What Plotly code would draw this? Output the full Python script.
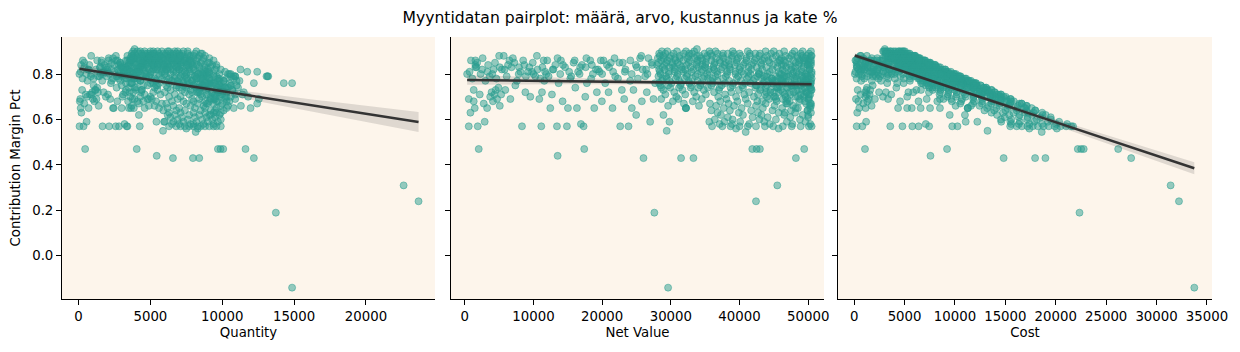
import numpy as np
import plotly.graph_objects as go

# ---------------- data ----------------
# sparse rows: low net value (0 - 28000)
sparse_quantity = [
    60, 120, 70, 200, 90, 250, 150, 300, 180, 420,
    350, 500, 650, 400, 560, 700, 850, 600, 950, 1100,
    800, 1200, 1000, 1300, 1400, 900, 700, 1500, 880, 1150,
    1250, 1600, 1050, 1700, 1670, 1800, 1350, 1900, 2000, 1450,
    2200, 2130, 1750, 2100, 2300, 1550, 2400, 2050, 2500, 2590,
    2250, 2600, 2700, 2820, 2450, 2800, 2900, 2650, 3000, 3100,
    3200, 2950, 3350, 3050, 3300, 3400, 3150, 3500, 3250, 3600,
    3450, 3700, 3550, 3800, 3650, 3900, 3400, 4000, 4150, 3750,
    4260, 4300, 3850, 4400, 4200, 4500, 4600, 4100, 4700, 4350,
    4800, 5420, 4900, 5000,
]
sparse_net_value = [
    340, 580, 580, 820, 1300, 1300, 1450, 1550, 1550, 1550,
    1890, 2180, 2520, 2760, 2900, 3250, 3630, 3700, 3900, 4100,
    4300, 4500, 4700, 4900, 5100, 5300, 4200, 5100, 5670, 5900,
    6640, 7220, 7360, 7850, 8330, 8670, 8820, 9540, 9790, 10270,
    10850, 11140, 11240, 11480, 11580, 11870, 12450, 12690, 13180, 13420,
    13660, 14000, 14240, 14870, 15020, 15360, 15840, 16090, 16330, 16720,
    16910, 17050, 17300, 17540, 17780, 18270, 18650, 18850, 19230, 19620,
    19960, 20450, 20930, 21270, 21510, 21900, 22630, 22870, 23010, 23210,
    23840, 24080, 24320, 24560, 24950, 25050, 25530, 25780, 26260, 26500,
    26740, 26990, 27470, 27710,
]
sparse_cost = [
    68, 180, 249, 303, 416, 351, 508, 217, 248, 264,
    813, 632, 454, 911, 1189, 1138, 762, 1110, 1092, 1312,
    1247, 1215, 1457, 1274, 1734, 1537, 756, 867, 680, 1593,
    2058, 1083, 1840, 1570, 3582, 1387, 2470, 2862, 1860, 2157,
    3364, 4790, 3147, 1607, 2663, 2374, 4358, 3680, 2109, 5771,
    3278, 1960, 4557, 6394, 5257, 3379, 2376, 4183, 5716, 3344,
    7102, 2728, 7439, 5262, 4267, 2558, 3730, 6598, 5384, 3728,
    6387, 4908, 5860, 3191, 7529, 4599, 9731, 6175, 3452, 7195,
    10251, 5538, 8512, 6631, 9481, 4259, 3319, 8250, 5515, 7420,
    3476, 11066, 8516, 6650,
]
sparse_margin = [
    .80, .69, .57, .63, .68, .73, .65, .86, .84, .83,
    .57, .71, .82, .67, .59, .65, .79, .70, .72, .68,
    .71, .73, .69, .74, .66, .71, .82, .83, .88, .73,
    .69, .85, .75, .80, .57, .84, .72, .70, .81, .79,
    .69, .57, .72, .86, .77, .80, .65, .71, .84, .57,
    .76, .86, .68, .57, .65, .78, .85, .74, .65, .80,
    .58, .84, .57, .70, .76, .86, .80, .65, .72, .81,
    .68, .76, .72, .85, .65, .79, .57, .73, .85, .69,
    .57, .77, .65, .73, .62, .83, .87, .68, .79, .72,
    .87, .59, .69, .76,
]

# overlapping sparse rows in the 0.77 - 0.88 band (low net value)
band_quantity = [
    150, 280, 400, 550, 620, 750, 900, 1050, 1200, 1350,
    1500, 1650, 1800, 1950, 2050, 2150, 2300, 2400, 2500, 2650,
    2750, 2850, 2950, 3050, 3150, 3250, 3350, 3450, 3550, 3650,
    3750, 3850, 3950, 4050, 4150, 4250, 4350, 4450, 1300, 3300,
    1600, 1900, 2100, 1700, 2300, 2600, 2000, 2800, 2400, 3000,
    2700, 3200, 2900, 3400, 3100, 3600, 3300, 3800, 3500, 4000,
    3700, 4200, 3900, 4400, 4100, 4600, 4300, 4800, 4500, 5000,
    4700, 5200, 4900, 5400, 5100,
]
band_net_value = [
    700, 1100, 1800, 2300, 3000, 3400, 4000, 4600, 5400, 6100,
    6800, 7600, 8100, 8900, 9400, 10000, 10600, 11000, 11700, 12200,
    12900, 13900, 14600, 15500, 16500, 17600, 18400, 19100, 20000, 20700,
    21600, 22300, 23400, 24300, 25200, 25900, 26600, 27300, 6500, 19800,
    900, 1700, 2600, 3300, 4400, 5000, 5800, 6300, 7000, 7900,
    8500, 9200, 9900, 10500, 11300, 12000, 12800, 13500, 14300, 15200,
    16000, 16800, 17700, 18500, 19400, 20200, 21000, 21800, 22500, 23300,
    24100, 24900, 25700, 26400, 27200,
]
band_cost = [
    133, 242, 270, 460, 690, 544, 800, 1012, 972, 1281,
    1156, 1748, 1539, 1869, 1598, 2000, 1908, 2420, 2223, 2562,
    2322, 2780, 2482, 3255, 3135, 2992, 4048, 3438, 4000, 3312,
    4104, 4906, 4212, 4860, 5544, 4662, 5320, 4368, 910, 2772,
    126, 289, 338, 627, 660, 600, 1044, 1008, 910, 1343,
    1190, 1748, 1485, 1260, 1921, 1680, 2304, 1755, 2288, 2888,
    2240, 2856, 2301, 2960, 3492, 2828, 3570, 2834, 3375, 4427,
    3374, 3984, 3084, 4752, 4080,
]
band_margin = [
    .81, .78, .85, .80, .77, .84, .80, .78, .82, .79,
    .83, .77, .81, .79, .83, .80, .82, .78, .81, .79,
    .82, .80, .83, .79, .81, .83, .78, .82, .80, .84,
    .81, .78, .82, .80, .78, .82, .80, .84, .86, .86,
    .86, .83, .87, .81, .85, .88, .82, .84, .87, .83,
    .86, .81, .85, .88, .83, .86, .82, .87, .84, .81,
    .86, .83, .87, .84, .82, .86, .83, .87, .85, .81,
    .86, .84, .88, .82, .85,
]

# dense rows: net value 28000 - 50500, one margin level per line
dense_quantity = [
    3900,
    4100, 5200, 4600, 6900, 5800, 7600, 6300,
    3700, 4400, 5000, 4800, 5600, 6100, 6600, 7200, 5300, 8100, 8600,
    4000, 4900, 5400, 3800, 6400, 5700, 7000, 6200, 7800, 4700, 8400,
    4300, 3600, 5100, 6700, 4500, 5900, 7400, 6000, 8000, 5500, 8700,
    4200, 5000, 6500, 4800, 7300, 5600, 6800, 8200, 5200, 7700,
    3900, 4700, 5800, 6300, 5400, 7100, 6600, 7900, 4500, 9000,
    3500, 4400, 6000, 5100, 6900, 5700, 8300, 7500, 6400, 9300,
    3300, 5300, 4600, 7200, 6200, 8800, 5900, 9600, 7700,
    3100, 4900, 6600, 5500, 8000, 7000, 9900, 6100, 11270,
    2800, 4200, 5800, 7400, 6800, 9100, 8500, 11740, 12430,
    3400, 5000, 6400, 7800, 4700, 9400, 8700, 10400,
    2700, 4500, 6100, 13080, 7100, 13150, 8900, 13200,
    3200, 5300, 3700, 6700, 9700, 7500, 10800, 8300,
    2900, 4100, 6000, 5100, 7900, 9200, 6500, 10100, 8600,
    3600, 5600, 7300, 12200, 14280, 8100, 14860, 9500,
    3000, 4800, 6800, 5400, 8800, 7600, 10600, 9800,
    4000, 6200, 3500, 8400, 7000, 9900, 11100,
    3300, 5500, 4400, 7200, 6400, 8900, 9600, 7800, 10700,
    3800, 6000, 5200, 8200, 7400, 9300, 10300, 11500,
    3100, 5700, 4600, 7700, 6700, 9000, 8500, 10900,
    4300, 3600, 6300, 7100, 8600, 9500, 5000, 11800,
    3900, 5100, 6900, 4800, 12550, 7900, 9200, 10200,
    4500, 6500, 5400, 8000, 7300, 9700, 10500,
    4200, 5800, 7500, 8300, 6100, 9400, 10000, 12430,
    3700, 4900, 6600, 5300, 8700, 7800, 9900, 11300,
    4600, 7000, 8100, 6200, 11970, 5600, 8800, 9600, 10300,
    5900, 7400, 8500, 6800, 9200, 10100,
    6300, 8000, 7100, 9400, 8800, 9900,
    6700, 8400, 7700, 9100, 9800,
    7200, 6400, 8900, 8100, 9500,
    6900, 7600, 8600, 9300, 9900,
    6000, 7300, 8200, 6600, 9000, 9700,
    6500, 7800, 7000, 8700, 9400, 8000,
    6300, 6800, 7100, 7400, 7700, 8000, 8300, 8500, 8800, 9100, 9400, 9600, 9900,
    7500, 8300,
]
dense_net_value = [
    33800,
    29500, 32200, 35600, 39000, 43800, 46500, 49200,
    28300, 30400, 31900, 33100, 34900, 36800, 38300, 41500, 44600, 47700, 50100,
    28900, 30000, 32600, 34200, 36000, 37500, 40200, 42900, 45300, 48400, 49800,
    28100, 29800, 31300, 33500, 35200, 38900, 41000, 43600, 46100, 47200, 50300,
    28600, 30700, 32800, 34600, 37100, 39600, 42200, 44200, 45800, 48800,
    29300, 31000, 33800, 36400, 38000, 40800, 43100, 46700, 49400, 50400,
    28000, 30200, 32300, 35000, 37800, 39300, 41800, 44900, 47400, 49900,
    28800, 31600, 34000, 36200, 38600, 42500, 45500, 48100, 50200,
    29100, 30600, 33300, 35500, 37300, 40000, 43300, 46300, 49000,
    28400, 31800, 34400, 36700, 39400, 41300, 44400, 47900, 50500,
    29700, 32400, 35300, 38200, 40600, 42800, 45900, 48600,
    28200, 30900, 33600, 36500, 39800, 43900, 46900, 49600,
    29400, 32000, 34700, 37600, 41100, 44700, 48000, 50000,
    28700, 31200, 33900, 35800, 38500, 42000, 45200, 47100, 49300,
    30100, 32700, 36100, 39100, 41600, 43500, 46400, 50300,
    28500, 31400, 34300, 37400, 40400, 44000, 47600, 48900,
    29900, 32900, 35400, 38700, 42300, 45600, 49500,
    28900, 31700, 34800, 37000, 39900, 43000, 46000, 48300, 50400,
    30500, 33400, 36300, 38800, 41400, 44500, 47300, 49800,
    29200, 32100, 35100, 37900, 40700, 43700, 46600, 50100,
    30800, 33700, 36900, 39500, 42100, 45000, 48200, 49400,
    28600, 31100, 34500, 38100, 40900, 44300, 47000, 50000,
    30300, 33200, 37200, 39700, 42600, 45400, 48700,
    31900, 35700, 38400, 41200, 43800, 46800, 49700, 50400,
    29600, 34100, 36600, 39200, 42400, 45100, 47800, 50200,
    32200, 32200, 32200, 37700, 40300, 43400, 46200, 48500, 50300,
    35900, 38600, 41700, 44800, 47500, 49900,
    36800, 39900, 42700, 45700, 48100, 50400,
    37300, 40500, 43200, 46500, 49200,
    38300, 41900, 44100, 47400, 50000,
    36400, 39000, 42900, 45300, 48800,
    35600, 37800, 40100, 43600, 46900, 49600,
    37100, 38900, 41400, 44400, 47700, 50300,
    36000, 37500, 38700, 40000, 41200, 42400, 43700, 44900, 46300, 47600, 48900, 50100, 50500,
    39500, 45700,
]
dense_cost = [
    3042,
    2950, 3220, 3560, 3900, 4380, 4650, 4920,
    3113, 3344, 3509, 3641, 3839, 4048, 4213, 4565, 4906, 5247, 5511,
    3468, 3600, 3912, 4104, 4320, 4500, 4824, 5148, 5436, 5808, 5976,
    3653, 3874, 4069, 4355, 4576, 5057, 5330, 5668, 5993, 6136, 6539,
    4004, 4298, 4592, 4844, 5194, 5544, 5908, 6188, 6412, 6832,
    4395, 4650, 5070, 5460, 5700, 6120, 6465, 7005, 7410, 7560,
    4480, 4832, 5168, 5600, 6048, 6288, 6688, 7184, 7584, 7984,
    4896, 5372, 5780, 6154, 6562, 7225, 7735, 8177, 8534,
    5238, 5508, 5994, 6390, 6714, 7200, 7794, 8334, 8820,
    5396, 6042, 6536, 6973, 7486, 7847, 8436, 9101, 9595,
    5940, 6480, 7060, 7640, 8120, 8560, 9180, 9720,
    5922, 6489, 7056, 7665, 8358, 9219, 9849, 10416,
    6468, 7040, 7634, 8272, 9042, 9834, 10560, 11000,
    6601, 7176, 7797, 8234, 8855, 9660, 10396, 10833, 11339,
    7224, 7848, 8664, 9384, 9984, 10440, 11136, 12072,
    7125, 7850, 8575, 9350, 10100, 11000, 11900, 12225,
    7774, 8554, 9204, 10062, 10998, 11856, 12870,
    7803, 8559, 9396, 9990, 10773, 11610, 12420, 13041, 13608,
    8540, 9352, 10164, 10864, 11592, 12460, 13244, 13944,
    8468, 9309, 10179, 10991, 11803, 12673, 13514, 14529,
    9240, 10110, 11070, 11850, 12630, 13500, 14460, 14820,
    8866, 9641, 10695, 11811, 12679, 13733, 14570, 15500,
    9696, 10624, 11904, 12704, 13632, 14528, 15584,
    10527, 11781, 12672, 13596, 14454, 15444, 16401, 16632,
    10064, 11594, 12444, 13328, 14416, 15334, 16252, 17068,
    11270, 11270, 11270, 13195, 14105, 15190, 16170, 16975, 17605,
    12924, 13896, 15012, 16128, 17100, 17964,
    13616, 14763, 15799, 16909, 17797, 18648,
    14174, 15390, 16416, 17670, 18696,
    14937, 16341, 17199, 18486, 19500,
    14560, 15600, 17160, 18120, 19520,
    14596, 15498, 16441, 17876, 19229, 20336,
    15582, 16338, 17388, 18648, 20034, 21126,
    15480, 16125, 16641, 17200, 17716, 18232, 18791, 19307, 19909, 20468, 21027, 21543, 21715,
    17380, 20108,
]
dense_margin = [
    .91,
    .90, .90, .90, .90, .90, .90, .90,
    .89, .89, .89, .89, .89, .89, .89, .89, .89, .89, .89,
    .88, .88, .88, .88, .88, .88, .88, .88, .88, .88, .88,
    .87, .87, .87, .87, .87, .87, .87, .87, .87, .87, .87,
    .86, .86, .86, .86, .86, .86, .86, .86, .86, .86,
    .85, .85, .85, .85, .85, .85, .85, .85, .85, .85,
    .84, .84, .84, .84, .84, .84, .84, .84, .84, .84,
    .83, .83, .83, .83, .83, .83, .83, .83, .83,
    .82, .82, .82, .82, .82, .82, .82, .82, .82,
    .81, .81, .81, .81, .81, .81, .81, .81, .81,
    .80, .80, .80, .80, .80, .80, .80, .80,
    .79, .79, .79, .79, .79, .79, .79, .79,
    .78, .78, .78, .78, .78, .78, .78, .78,
    .77, .77, .77, .77, .77, .77, .77, .77, .77,
    .76, .76, .76, .76, .76, .76, .76, .76,
    .75, .75, .75, .75, .75, .75, .75, .75,
    .74, .74, .74, .74, .74, .74, .74,
    .73, .73, .73, .73, .73, .73, .73, .73, .73,
    .72, .72, .72, .72, .72, .72, .72, .72,
    .71, .71, .71, .71, .71, .71, .71, .71,
    .70, .70, .70, .70, .70, .70, .70, .70,
    .69, .69, .69, .69, .69, .69, .69, .69,
    .68, .68, .68, .68, .68, .68, .68,
    .67, .67, .67, .67, .67, .67, .67, .67,
    .66, .66, .66, .66, .66, .66, .66, .66,
    .65, .65, .65, .65, .65, .65, .65, .65, .65,
    .64, .64, .64, .64, .64, .64,
    .63, .63, .63, .63, .63, .63,
    .62, .62, .62, .62, .62,
    .61, .61, .61, .61, .61,
    .60, .60, .60, .60, .60,
    .59, .59, .59, .59, .59, .59,
    .58, .58, .58, .58, .58, .58,
    .57, .57, .57, .57, .57, .57, .57, .57, .57, .57, .57, .57, .57,
    .56, .56,
]

# second layer of the dense high-margin core (margin 0.74 - 0.90)
core_quantity = [
    3800, 5500, 4300, 6200, 7300, 5000, 8200, 6700,
    4600, 3900, 6800, 5200, 7600, 4200, 8500, 5900, 6400, 7000,
    4500, 3700, 6000, 5100, 7700, 4400, 6600, 8800, 5600, 7200, 8000,
    4100, 5400, 3800, 6300, 7000, 4900, 8300, 5800, 7500, 9100, 6500,
    3600, 4600, 5900, 7100, 4300, 6500, 7800, 5300, 8600, 6900, 9400,
    4400, 3500, 5600, 6800, 4900, 7600, 6100, 8500, 5300, 7300, 9100,
    4000, 5200, 6700, 4700, 7900, 6200, 8800, 5500, 7100, 9600, 5900,
    3700, 4800, 6300, 7500, 5500, 8400, 6900, 9200, 8000, 4300,
    3400, 5800, 4500, 7000, 6400, 8700, 5200, 9500, 7700, 6100,
    4100, 3600, 6000, 5100, 7700, 6600, 9000, 8200, 10200, 7200,
    3800, 5600, 4600, 7200, 6000, 8900, 7500, 9800, 8300, 10600,
    3500, 4900, 6700, 5600, 8100, 7400, 9600, 8700, 10900,
    3900, 5800, 4700, 7600, 6300, 9100, 8200, 10300, 5100,
    4300, 6500, 5400, 7900, 8800, 6900, 9800, 7600, 11200,
    3700, 5200, 7000, 6300, 8500, 9400, 7700, 10500,
    4500, 6100, 5500, 8000, 7300, 9200, 8600, 11000,
    3900, 5300, 6800, 7500, 9000, 8200, 10100, 9700,
]
core_net_value = [
    28700, 30900, 33400, 36500, 41200, 45000, 48000, 50400,
    29200, 32700, 35800, 37600, 40000, 43000, 45800, 48900, 39200, 42300,
    28400, 31300, 33800, 35300, 38900, 41500, 44000, 46700, 49100, 50400, 47500,
    29000, 30600, 32400, 34400, 36600, 39800, 42400, 44800, 48500, 49600, 37700,
    29500, 31800, 33900, 35900, 38400, 41000, 43300, 46500, 47800, 50000, 49400,
    28200, 30200, 32600, 35100, 37200, 39600, 42000, 44400, 45600, 48200, 50100,
    29100, 31300, 33700, 36300, 38500, 40600, 43200, 46100, 48600, 50400, 34600,
    29800, 32900, 35000, 37500, 40100, 41300, 43900, 46800, 49300, 30500,
    28300, 31600, 34500, 36300, 38600, 41700, 44800, 47500, 50200, 32100,
    29700, 30600, 33000, 35600, 38200, 40300, 42800, 45700, 49100, 46600,
    28500, 31000, 33900, 36800, 39400, 41600, 44100, 47100, 49700, 50500,
    29300, 32300, 34900, 38000, 41300, 42600, 45300, 48200, 50300,
    28800, 30700, 33100, 36100, 39600, 43200, 46200, 49300, 35400,
    29800, 32600, 36800, 40200, 43600, 44800, 46300, 48100, 50400,
    28300, 31500, 34400, 37900, 40800, 44600, 47500, 49200,
    29600, 33000, 35900, 39000, 42500, 45800, 48400, 50200,
    28600, 31200, 34000, 37100, 40500, 43800, 47000, 50400,
]
core_cost = [
    2870, 3090, 3340, 3650, 4120, 4500, 4800, 5040,
    3212, 3597, 3938, 4136, 4400, 4730, 5038, 5379, 4312, 4653,
    3408, 3756, 4056, 4236, 4668, 4980, 5280, 5604, 5892, 6048, 5700,
    3770, 3978, 4212, 4472, 4758, 5174, 5512, 5824, 6305, 6448, 4901,
    4130, 4452, 4746, 5026, 5376, 5740, 6062, 6510, 6692, 7000, 6916,
    4230, 4530, 4890, 5265, 5580, 5940, 6300, 6660, 6840, 7230, 7515,
    4656, 5008, 5392, 5808, 6160, 6496, 6912, 7376, 7776, 8064, 5536,
    5066, 5593, 5950, 6375, 6817, 7021, 7463, 7956, 8381, 5185,
    5094, 5688, 6210, 6534, 6948, 7506, 8064, 8550, 9036, 5778,
    5643, 5814, 6270, 6764, 7258, 7657, 8132, 8683, 9329, 8854,
    5700, 6200, 6780, 7360, 7880, 8320, 8820, 9420, 9940, 10100,
    6153, 6783, 7329, 7980, 8673, 8946, 9513, 10122, 10563,
    6336, 6754, 7282, 7942, 8712, 9504, 10164, 10846, 7788,
    6854, 7498, 8464, 9246, 10028, 10304, 10649, 11063, 11592,
    6792, 7560, 8256, 9096, 9792, 10704, 11400, 11808,
    7400, 8250, 8975, 9750, 10625, 11450, 12100, 12550,
    7436, 8112, 8840, 9646, 10530, 11388, 12220, 13104,
]
core_margin = [
    .90, .90, .90, .90, .90, .90, .90, .90,
    .89, .89, .89, .89, .89, .89, .89, .89, .89, .89,
    .88, .88, .88, .88, .88, .88, .88, .88, .88, .88, .88,
    .87, .87, .87, .87, .87, .87, .87, .87, .87, .87, .87,
    .86, .86, .86, .86, .86, .86, .86, .86, .86, .86, .86,
    .85, .85, .85, .85, .85, .85, .85, .85, .85, .85, .85,
    .84, .84, .84, .84, .84, .84, .84, .84, .84, .84, .84,
    .83, .83, .83, .83, .83, .83, .83, .83, .83, .83,
    .82, .82, .82, .82, .82, .82, .82, .82, .82, .82,
    .81, .81, .81, .81, .81, .81, .81, .81, .81, .81,
    .80, .80, .80, .80, .80, .80, .80, .80, .80, .80,
    .79, .79, .79, .79, .79, .79, .79, .79, .79,
    .78, .78, .78, .78, .78, .78, .78, .78, .78,
    .77, .77, .77, .77, .77, .77, .77, .77, .77,
    .76, .76, .76, .76, .76, .76, .76, .76,
    .75, .75, .75, .75, .75, .75, .75, .75,
    .74, .74, .74, .74, .74, .74, .74, .74,
]

# rows piled up at the high net value edge (42000 - 50500)
edge_quantity = [
    7400, 8200, 9000, 8600, 9800, 9300, 10200, 9700, 10600, 9100,
    10400, 9500, 7800, 8800, 7200, 9900, 8400, 10800, 6800, 9400,
    8000, 10000, 8900, 9600, 7600, 8300, 9100, 7900, 10300, 9200,
    6600, 7100, 10900, 8700, 11400, 9000, 7000, 9800, 6200, 8500,
    8600, 10400, 9200, 9900, 8300, 10800, 9600, 10600, 8900, 10100,
    9700, 9900, 8100, 10700, 9400, 11000, 8700, 10500, 10300, 9000,
    10900, 8600, 8800, 9700, 9300, 8500, 10200, 9300, 9100, 8400,
    10600, 9500, 9100, 8400, 8200, 10000, 9500, 9800, 10200, 8800,
]
edge_net_value = [
    50400, 49900, 50200, 49600, 50500, 49800, 50300, 49700, 50100, 49500,
    50400, 49900, 48700, 48300, 48900, 48500, 48800, 48200, 47600, 47200,
    47800, 47400, 47000, 46600, 46400, 46100, 46700, 46300, 46800, 50000,
    49300, 50500, 49100, 50200, 49400, 50300, 45600, 45200, 45900, 45400,
    42200, 43100, 44000, 44900, 45700, 46500, 47300, 48100, 48900, 49700,
    50500, 42700, 43600, 44500, 45300, 46100, 46900, 47700, 48500, 49300,
    50100, 42400, 43300, 44200, 45000, 45900, 46700, 47500, 48300, 49100,
    49900, 50300, 42900, 43900, 44700, 45500, 46300, 47900, 49500, 50400,
]
edge_cost = [
    7056, 7984, 9036, 9920, 11110, 11952, 13078, 13916, 15030, 15840,
    17136, 17964, 7305, 9177, 11247, 13095, 15128, 16870, 8092, 9912,
    11950, 13746, 15510, 17242, 7424, 9220, 11208, 12964, 14976, 19000,
    6409, 6060, 10311, 12550, 14326, 16599, 10032, 13560, 6426, 11804,
    9284, 11206, 13200, 10776, 12796, 9765, 15136, 12025, 14181, 11431,
    13635, 12383, 9156, 12015, 14043, 10603, 12194, 9540, 14550, 11832,
    15531, 10600, 13856, 10166, 12600, 10098, 14010, 11875, 10626, 13257,
    10479, 14587, 8580, 12292, 9834, 11830, 14353, 13412, 12870, 12096,
]
edge_margin = [
    .86, .84, .82, .80, .78, .76, .74, .72, .70, .68,
    .66, .64, .85, .81, .77, .73, .69, .65, .83, .79,
    .75, .71, .67, .63, .84, .80, .76, .72, .68, .62,
    .87, .88, .79, .75, .71, .67, .78, .70, .86, .74,
    .78, .74, .70, .76, .72, .79, .68, .75, .71, .77,
    .73, .71, .79, .73, .69, .77, .74, .80, .70, .76,
    .69, .75, .68, .77, .72, .78, .70, .75, .78, .73,
    .79, .71, .80, .72, .78, .74, .69, .72, .74, .76,
]

# low-margin rows and outliers
extra_quantity = [14860, 13730, 23660, 22620, 6570, 7960, 8400, 12200, 5440,
                  460, 4050, 9700, 9880, 10070, 11620, 5880, 8150, 5950, 6200]
extra_net_value = [29600, 27600, 42400, 45500, 26020, 31490, 33290, 48210, 13520,
                   2030, 17390, 41860, 42490, 42970, 49420, 29400, 40900, 29800, 28920]
extra_cost = [33744, 22356, 32224, 31395, 14831, 17949, 18975, 27480, 7571,
              1076, 9217, 22186, 22520, 22774, 26193, 13230, 18610, 12218, 10990]
extra_margin = [-0.14, 0.19, 0.24, 0.31, 0.43, 0.43, 0.43, 0.43, 0.44,
                0.47, 0.47, 0.47, 0.47, 0.47, 0.47, 0.55, 0.545, 0.59, 0.62]

x_columns = ["Quantity", "Net Value", "Cost"]
y_column = "Contribution Margin Pct"
x_tickvals = [
    [0, 5000, 10000, 15000, 20000],
    [0, 10000, 20000, 30000, 40000, 50000],
    [0, 5000, 10000, 15000, 20000, 25000, 30000, 35000],
]
y_tickvals = [0.0, 0.2, 0.4, 0.6, 0.8]
title_text = "Myyntidatan pairplot: määrä, arvo, kustannus ja kate %"

# ---------------- assemble ----------------
quantity = np.array(sparse_quantity + band_quantity + dense_quantity + core_quantity
                    + edge_quantity + extra_quantity, float)
net_value = np.array(sparse_net_value + band_net_value + dense_net_value + core_net_value
                     + edge_net_value + extra_net_value, float)
cost = np.array(sparse_cost + band_cost + dense_cost + core_cost
                + edge_cost + extra_cost, float)
margin = np.array(sparse_margin + band_margin + dense_margin + core_margin
                  + edge_margin + extra_margin, float)
xs = [quantity, net_value, cost]

POINT = "rgba(42,157,143,0.5)"
LINE = "#333333"
BAND = "rgba(51,51,51,0.15)"
BG = "#fdf5eb"
FONT = "DejaVu Sans"


def reg_band(x, y):
    n = len(x)
    b1, b0 = np.polyfit(x, y, 1)
    grid = np.linspace(x.min(), x.max(), 100)
    fit = b0 + b1 * grid
    resid = y - (b0 + b1 * x)
    s = np.sqrt(np.sum(resid ** 2) / (n - 2))
    sxx = np.sum((x - x.mean()) ** 2)
    se = s * np.sqrt(1.0 / n + (grid - x.mean()) ** 2 / sxx)
    return grid, fit, fit - 1.96 * se, fit + 1.96 * se


fig = go.Figure()
for i, x in enumerate(xs):
    xa = "x" if i == 0 else f"x{i+1}"
    ya = "y" if i == 0 else f"y{i+1}"
    fig.add_trace(go.Scatter(
        x=x, y=margin, mode="markers", xaxis=xa, yaxis=ya,
        marker=dict(size=7, color=POINT, line=dict(width=1, color=POINT)),
        showlegend=False, hoverinfo="skip"))
    g, f, lo, hi = reg_band(x, margin)
    fig.add_trace(go.Scatter(
        x=np.concatenate([g, g[::-1]]), y=np.concatenate([hi, lo[::-1]]),
        mode="lines", fill="toself", fillcolor=BAND, line=dict(width=0),
        xaxis=xa, yaxis=ya, showlegend=False, hoverinfo="skip"))
    fig.add_trace(go.Scatter(
        x=g, y=f, mode="lines", line=dict(color=LINE, width=2.6),
        xaxis=xa, yaxis=ya, showlegend=False, hoverinfo="skip"))

axis_common = dict(
    showline=True, linecolor="black", linewidth=1, mirror=False,
    ticks="outside", ticklen=5, tickwidth=1, tickcolor="black",
    showgrid=False, zeroline=False,
    tickfont=dict(family=FONT, size=13.3, color="black"),
)

domains = [[0.0, 0.3243], [0.3383, 0.6626], [0.6748, 1.0]]
ranges = [[-1150, 24800], [-2000, 52300], [-1600, 35500]]
layout = dict(
    width=1240, height=352,
    margin=dict(l=62, r=28, t=37, b=53),
    paper_bgcolor="white", plot_bgcolor=BG,
    font=dict(family=FONT, color="black"),
    title=dict(text=title_text, x=0.5, xanchor="center", xref="container",
               y=1 - 18 / 352, yref="container", yanchor="middle",
               font=dict(family=FONT, size=15.6, color="black")),
)
for i in range(3):
    key = "xaxis" if i == 0 else f"xaxis{i+1}"
    layout[key] = dict(
        axis_common, domain=domains[i], range=ranges[i],
        anchor="y" if i == 0 else f"y{i+1}",
        tickvals=x_tickvals[i], tickformat="d",
        title=dict(text=x_columns[i], standoff=4,
                   font=dict(family=FONT, size=13.3, color="black")),
    )
    ykey = "yaxis" if i == 0 else f"yaxis{i+1}"
    ydef = dict(axis_common, domain=[0, 1], range=[-0.19, 0.963],
                anchor="x" if i == 0 else f"x{i+1}",
                tickvals=y_tickvals, tickformat=".1f")
    if i == 0:
        ydef["title"] = dict(text=y_column, standoff=8,
                             font=dict(family=FONT, size=13.3, color="black"))
    else:
        ydef["matches"] = "y"
        ydef["showticklabels"] = False
    layout[ykey] = ydef

fig.update_layout(**layout)
fig.write_html("out.html")
